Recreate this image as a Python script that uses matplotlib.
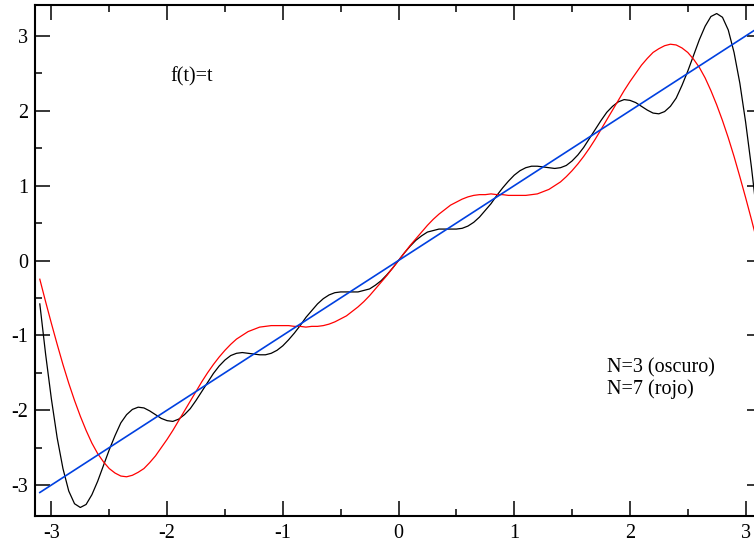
import numpy as np
import matplotlib
matplotlib.use("Agg")
import matplotlib.pyplot as plt
from matplotlib.ticker import MultipleLocator

# ---- data (t from -3.1 to 3.1, step 0.05) ----
t_start, t_end = -3.1, 3.1
black_n7 = [-0.58, -1.25, -1.85, -2.37, -2.78, -3.08, -3.25, -3.3, -3.26, -3.13,
            -2.95, -2.74, -2.53, -2.34, -2.17, -2.06, -1.99, -1.96, -1.97, -2.01,
            -2.06, -2.11, -2.14, -2.15, -2.12, -2.06, -1.98, -1.87, -1.75, -1.63,
            -1.51, -1.41, -1.33, -1.27, -1.24, -1.23, -1.24, -1.25, -1.26, -1.26,
            -1.24, -1.2, -1.14, -1.06, -0.97, -0.87, -0.76, -0.67, -0.58, -0.51,
            -0.46, -0.43, -0.42, -0.42, -0.42, -0.42, -0.4, -0.38, -0.33, -0.27,
            -0.19, -0.1,
            0, 0.1, 0.19, 0.27, 0.33, 0.38, 0.4, 0.42, 0.42, 0.42, 0.42, 0.43, 0.46,
            0.51, 0.58, 0.67, 0.76, 0.87, 0.97, 1.06, 1.14, 1.2, 1.24, 1.26, 1.26,
            1.25, 1.24, 1.23, 1.24, 1.27, 1.33, 1.41, 1.51, 1.63, 1.75, 1.87, 1.98,
            2.06, 2.12, 2.15, 2.14, 2.11, 2.06, 2.01, 1.97, 1.96, 1.99, 2.06, 2.17,
            2.34, 2.53, 2.74, 2.95, 3.13, 3.26, 3.3, 3.25, 3.08, 2.78, 2.37, 1.85,
            1.25, 0.58]
red_n3 = [-0.25, -0.55, -0.84, -1.12, -1.39, -1.64, -1.87, -2.08, -2.27, -2.44,
          -2.58, -2.69, -2.78, -2.84, -2.88, -2.89, -2.87, -2.83, -2.78, -2.7,
          -2.61, -2.5, -2.39, -2.27, -2.14, -2.01, -1.88, -1.75, -1.62, -1.5,
          -1.39, -1.29, -1.2, -1.12, -1.05, -1, -0.95, -0.92, -0.89, -0.88,
          -0.87, -0.87, -0.87, -0.87, -0.88, -0.88, -0.89, -0.88, -0.88, -0.87,
          -0.85, -0.82, -0.78, -0.74, -0.68, -0.62, -0.55, -0.47, -0.38, -0.29,
          -0.2, -0.1,
          0, 0.1, 0.2, 0.29, 0.38, 0.47, 0.55, 0.62, 0.68, 0.74, 0.78, 0.82, 0.85,
          0.87, 0.88, 0.88, 0.89, 0.88, 0.88, 0.87, 0.87, 0.87, 0.87, 0.88, 0.89,
          0.92, 0.95, 1, 1.05, 1.12, 1.2, 1.29, 1.39, 1.5, 1.62, 1.75, 1.88, 2.01,
          2.14, 2.27, 2.39, 2.5, 2.61, 2.7, 2.78, 2.83, 2.87, 2.89, 2.88, 2.84,
          2.78, 2.69, 2.58, 2.44, 2.27, 2.08, 1.87, 1.64, 1.39, 1.12, 0.84, 0.55,
          0.25]
line_x = [-3.1, 3.1]
line_y = [-3.1, 3.1]
x_ticks = [-3, -2, -1, 0, 1, 2, 3]
y_ticks = [-3, -2, -1, 0, 1, 2, 3]
title_text = "f(t)=t"
legend_lines = ["N=3 (oscuro)", "N=7 (rojo)"]

plt.rcParams['font.family'] = ['Liberation Serif', 'DejaVu Serif']
plt.rcParams['axes.unicode_minus'] = False

fig = plt.figure(figsize=(7.54, 5.42), dpi=100)
ax = fig.add_axes([35/754, 26.3/542, 727/754, 510.4/542])

t7 = np.linspace(t_start, t_end, len(black_n7))
t3 = np.linspace(t_start, t_end, len(red_n3))
ax.plot(t7, black_n7, color='black', lw=0.9)
ax.plot(t3, red_n3, color='#ff0000', lw=0.9)
ax.plot(line_x, line_y, color='#0040e0', lw=1.2)

ax.set_xlim(-np.pi, np.pi)
ax.set_ylim(-3.41, 3.41)
ax.set_xticks(x_ticks)
ax.set_yticks(y_ticks)
ax.set_xticklabels([str(v) for v in x_ticks])
ax.set_yticklabels([str(v) for v in y_ticks])
ax.xaxis.set_minor_locator(MultipleLocator(0.5))
ax.yaxis.set_minor_locator(MultipleLocator(0.5))
ax.tick_params(which='both', direction='in', top=True, right=True, width=1.1,
               labelsize=14.5)
ax.tick_params(which='major', length=10.5)
ax.tick_params(axis='x', which='major', pad=6)
ax.tick_params(axis='y', which='major', pad=5)
ax.tick_params(which='minor', length=5)
for sp in ax.spines.values():
    sp.set_linewidth(1.5)

ax.text(-1.97, 2.39, title_text, fontsize=14.5, va='baseline', ha='left')
ax.text(1.80, -1.50, legend_lines[0], fontsize=14.5, va='baseline', ha='left')
ax.text(1.80, -1.78, legend_lines[1], fontsize=14.5, va='baseline', ha='left')

fig.savefig('out.png', dpi=100)
